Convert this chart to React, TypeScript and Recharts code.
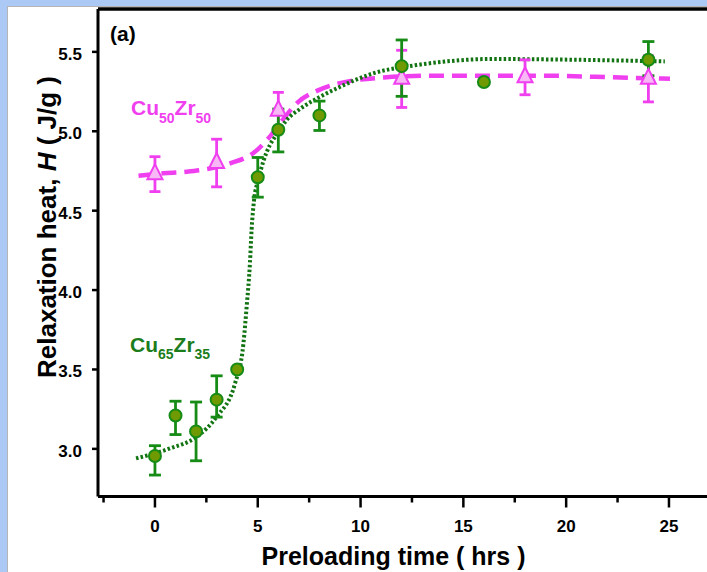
import React from 'react';
import { ComposedChart, XAxis, YAxis, Scatter, Line, ErrorBar, ReferenceLine } from 'recharts';

const FONT = '"Liberation Sans", Arial, Helvetica, sans-serif';

// axis ranges & ticks
const X_DOMAIN: [number, number] = [-2.77, 26.85];
const Y_DOMAIN: [number, number] = [2.70, 5.77];
const X_TICKS = [-2.5, 0, 2.5, 5, 7.5, 10, 12.5, 15, 17.5, 20, 22.5, 25];
const Y_TICKS = [3.0, 3.5, 4.0, 4.5, 5.0, 5.5];

// Cu65Zr35 measured points
const cu65Time = [0, 1, 2, 3, 4, 5, 6, 8, 12, 16, 24];
const cu65Heat = [2.955, 3.21, 3.11, 3.31, 3.5, 4.71, 5.01, 5.1, 5.41, 5.31, 5.45];
const cu65Err: (number[] | null)[] = [
  [0.12, 0.065], [0.12, 0.09], [0.185, 0.185], [0.11, 0.15], null,
  [0.125, 0.125], [0.14, 0.13], [0.095, 0.09], [0.19, 0.165], null, [0.1, 0.115],
];

// Cu50Zr50 measured points
const cu50Time = [0, 3, 6, 12, 18, 24];
const cu50Heat = [4.73, 4.8, 5.13, 5.33, 5.34, 5.33];
const cu50Err = [0.11, 0.15, 0.115, 0.18, 0.11, 0.145];

// fitted curves
const cu65FitTime = [-0.92, 0.73, 2.03, 3.0, 3.89, 4.3, 4.46, 4.62, 4.7, 4.82, 5.02, 5.27, 5.59, 5.92, 6.4, 7.05, 8.03, 8.84, 10.62, 12.73, 14.19, 16.29, 20.67, 24.8];
const cu65FitHeat = [2.94, 3.003, 3.076, 3.202, 3.41, 3.66, 3.895, 4.17, 4.378, 4.567, 4.69, 4.81, 4.913, 4.98, 5.07, 5.14, 5.217, 5.27, 5.365, 5.417, 5.44, 5.455, 5.45, 5.44];

const cu50FitTime = [-0.8, 0.4, 1.54, 3.65, 4.82, 5.47, 6.2, 6.93, 7.9, 8.88, 11.27, 13.38, 18.73, 22.29, 25.05];
const cu50FitHeat = [4.72, 4.735, 4.745, 4.798, 4.866, 4.948, 5.07, 5.18, 5.256, 5.3, 5.34, 5.35, 5.35, 5.34, 5.33];

const cu65Data = cu65Time.map((t, i) => ({ t, h: cu65Heat[i], err: cu65Err[i] }));
const cu50Data = cu50Time.map((t, i) => ({ t, h: cu50Heat[i], err: cu50Err[i] }));
const cu65Fit = cu65FitTime.map((t, i) => ({ t, h: cu65FitHeat[i] }));
const cu50Fit = cu50FitTime.map((t, i) => ({ t, h: cu50FitHeat[i] }));

const GREEN_LINE = '#117311';
const GREEN_BAR = '#168c16';
const GREEN_FILL = '#6f9a02';
const MAGENTA = '#ef3fef';
const PINK_FILL = '#f7b8f5';
const BLUE_BG = '#abc9f4';

const XTick = (props: any) => {
  const { x, y, payload } = props;
  const v = payload.value;
  const major = Math.abs(v % 5) < 1e-6;
  return (
    <g>
      <line x1={x} x2={x} y1={y} y2={y + (major ? 11 : 6)} stroke="#000" strokeWidth={2.5} />
      {major && (
        <text x={x} y={y + 35} textAnchor="middle" fontFamily={FONT} fontWeight="bold" fontSize={17} fill="#000">
          {v}
        </text>
      )}
    </g>
  );
};

const YTick = (props: any) => {
  const { x, y, payload } = props;
  return (
    <g>
      <line x1={x - 6} x2={x} y1={y} y2={y} stroke="#000" strokeWidth={2.5} />
      <text x={x - 16} y={y + 8} textAnchor="end" fontFamily={FONT} fontWeight="bold" fontSize={17} fill="#000">
        {Number(payload.value).toFixed(1)}
      </text>
    </g>
  );
};

const Circle = (props: any) => {
  const { cx, cy } = props;
  if (cx == null || cy == null) return null;
  return <circle cx={cx} cy={cy} r={6} fill={GREEN_FILL} stroke={GREEN_BAR} strokeWidth={2} />;
};

const Tri = (props: any) => {
  const { cx, cy } = props;
  if (cx == null || cy == null) return null;
  const pts = `${cx},${cy - 10} ${cx - 7.5},${cy + 5} ${cx + 7.5},${cy + 5}`;
  return <polygon points={pts} fill={PINK_FILL} stroke={MAGENTA} strokeWidth={2} />;
};

export default function App() {
  return (
    <div style={{ position: 'absolute', left: 0, top: 0, width: 707, height: 572, background: BLUE_BG, overflow: 'hidden' }}>
      <div
        style={{
          position: 'absolute', left: 7, top: 6, width: 700, height: 566, background: '#fff',
          borderLeft: '1px solid #b5b5b5', borderTop: '1px solid #b5b5b5', boxSizing: 'border-box',
        }}
      />
      <div style={{ position: 'absolute', left: 8, top: 7, width: 699, height: 565 }}>
        <ComposedChart width={699} height={565} margin={{ top: 2, right: 0, bottom: 35.5, left: 0 }}>
          <XAxis
            dataKey="t"
            type="number"
            domain={X_DOMAIN}
            allowDataOverflow
            ticks={X_TICKS}
            interval={0}
            tick={<XTick />}
            tickLine={false}
            tickSize={0}
            tickMargin={0}
            height={40}
            axisLine={{ stroke: '#000', strokeWidth: 3 }}
          />
          <YAxis
            type="number"
            domain={Y_DOMAIN}
            allowDataOverflow
            ticks={Y_TICKS}
            interval={0}
            tick={<YTick />}
            tickLine={false}
            tickSize={0}
            tickMargin={0}
            width={90}
            axisLine={{ stroke: '#000', strokeWidth: 3 }}
          />
          <ReferenceLine y={Y_DOMAIN[1]} stroke="#000" strokeWidth={3.5} />
          <Line
            data={cu50Fit}
            dataKey="h"
            type="monotone"
            stroke={MAGENTA}
            strokeWidth={4.5}
            strokeDasharray="15 8"
            dot={false}
            activeDot={false}
            isAnimationActive={false}
          />
          <Line
            data={cu65Fit}
            dataKey="h"
            type="monotone"
            stroke={GREEN_LINE}
            strokeWidth={4}
            strokeDasharray="2.5 2.2"
            dot={false}
            activeDot={false}
            isAnimationActive={false}
          />
          <Scatter data={cu50Data} dataKey="h" shape={<Tri />} isAnimationActive={false}>
            <ErrorBar dataKey="err" direction="y" width={5.5} stroke={MAGENTA} strokeWidth={2.8} />
          </Scatter>
          <Scatter data={cu65Data} dataKey="h" shape={<Circle />} isAnimationActive={false}>
            <ErrorBar dataKey="err" direction="y" width={6} stroke={GREEN_BAR} strokeWidth={2.8} />
          </Scatter>
        </ComposedChart>
      </div>
      <svg
        width={707}
        height={572}
        style={{ position: 'absolute', left: 0, top: 0, pointerEvents: 'none' }}
      >
        <text x={110} y={40.5} fontFamily={FONT} fontWeight="bold" fontSize={21} fill="#000">(a)</text>
        <text x={131} y={115} fontFamily={FONT} fontWeight="bold" fontSize={21} fill={MAGENTA}>
          <tspan>Cu</tspan>
          <tspan fontSize={14} dy={8}>50</tspan>
          <tspan dy={-8}>Zr</tspan>
          <tspan fontSize={14} dy={8}>50</tspan>
        </text>
        <text x={130} y={351.5} fontFamily={FONT} fontWeight="bold" fontSize={21} fill="#1b7d1b">
          <tspan>Cu</tspan>
          <tspan fontSize={14} dy={7}>65</tspan>
          <tspan dy={-7}>Zr</tspan>
          <tspan fontSize={14} dy={7}>35</tspan>
        </text>
        <text x={393.5} y={565} textAnchor="middle" fontFamily={FONT} fontWeight="bold" fontSize={25} fill="#000">
          Preloading time ( hrs )
        </text>
        <text
          x={55.5}
          y={227}
          transform="rotate(-90 55.5 227)"
          textAnchor="middle"
          fontFamily={FONT}
          fontWeight="bold"
          fontSize={26}
          fill="#000"
        >
          <tspan>Relaxation heat,  </tspan>
          <tspan fontStyle="italic">H</tspan>
          <tspan> ( J/g )</tspan>
        </text>
      </svg>
    </div>
  );
}
